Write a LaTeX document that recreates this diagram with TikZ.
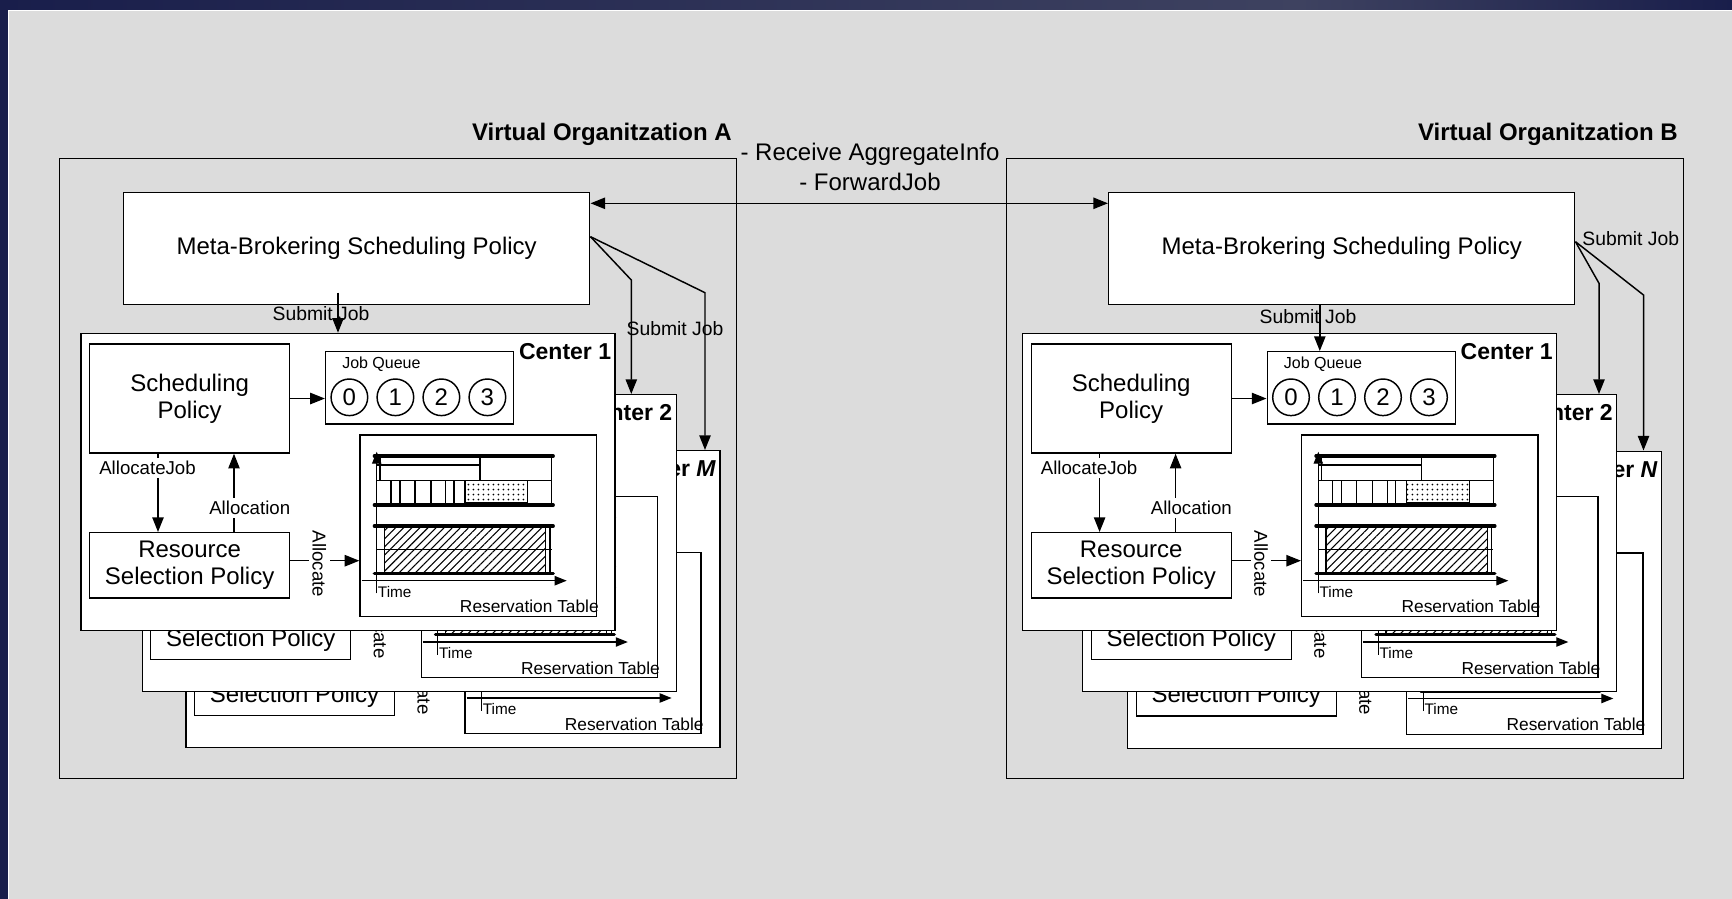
\documentclass[tikz,border=0pt]{standalone}
\usepackage{fontspec}
\setmainfont{Liberation Sans}
\usetikzlibrary{arrows.meta,patterns.meta}

\definecolor{pagegray}{RGB}{220,220,220}
\definecolor{navy}{RGB}{25,30,75}
\definecolor{slate}{RGB}{62,66,96}

\tikzset{
  ln/.style={line width=1.1pt},
  thin/.style={line width=0.9pt},
  heavy/.style={line width=2.4pt, line cap=round},
  arr/.style={ln, -{Triangle[length=11pt,width=8.5pt]}},
  darr/.style={ln, {Triangle[length=11pt,width=8.5pt]}-{Triangle[length=11pt,width=8.5pt]}},
  axarr/.style={thin, -{Triangle[length=9pt,width=7pt]}},
  rbox/.style n args={2}{draw, ln, fill=white, anchor=north west, inner sep=0pt,
     minimum width=#1*0.75pt, minimum height=#2*0.75pt},
  frame/.style n args={2}{draw, ln, anchor=north west, inner sep=0pt,
     minimum width=#1*0.75pt, minimum height=#2*0.75pt},
  big/.style={font=\fontsize{18}{20.5}\selectfont, align=center},
  small/.style={font=\fontsize{14}{16}\selectfont, inner sep=0pt},
  sublbl/.style={font=\fontsize{14.5}{16}\selectfont, inner sep=0pt},
  ctitle/.style={font=\bfseries\fontsize{17.25}{19}\selectfont, inner sep=0pt},
  vot/.style={font=\bfseries\fontsize{18}{20}\selectfont, inner sep=0pt},
  qball/.style={draw, ln, circle, fill=white, minimum size=36.6*0.75pt,
     inner sep=0pt, font=\fontsize{18}{20}\selectfont},
}

% One computing center: policies, job queue and reservation table.
% #1 name prefix, #2/#3 top-left corner, #4 title,
% #5 = 1 for the front center (all labels), 0 for a center lying behind another
\newcommand{\centerstack}[5]{%
\begin{scope}[shift={(#2,#3)}]
  \node[rbox={534}{297}] (#1) at (0,0) {};
  \node[ctitle, anchor=east] (#1t) at (531,19) {#4};
  \node[rbox={200}{109}, big] (#1sp) at (8.5,10.6) {\ifnum#5=1 Scheduling\\Policy\fi};
  \node[rbox={188}{72.3}] (#1jq) at (244.5,18.3) {};
  \node[qball] (#1q0) at (269,64.6) {\ifnum#5=1 0\fi};
  \node[qball] (#1q1) at (315,64.6) {\ifnum#5=1 1\fi};
  \node[qball] (#1q2) at (361,64.6) {\ifnum#5=1 2\fi};
  \node[qball] (#1q3) at (407,64.6) {\ifnum#5=1 3\fi};
  \node[rbox={236.1}{181.4}] (#1rt) at (279,101.6) {};
  \node[rbox={200}{65.3}, big] (#1rsp) at (8.5,199.3) {Resource\\Selection Policy};
  % policy connectors
  \coordinate (#1ajx) at (77.6,0);
  \coordinate (#1alx) at (153.6,0);
  \coordinate (#1aty) at (0,228);
  \draw[arr] (#1sp.east) -- (#1sp.east -| #1jq.west);
  \draw[arr] (#1sp.south -| #1ajx) -- (#1rsp.north -| #1ajx);
  \draw[arr] (#1rsp.north -| #1alx) -- (#1sp.south -| #1alx);
  \draw[arr] (#1rsp.east |- #1aty) -- (#1rt.west |- #1aty);
  \ifnum#5=1
    \node[font=\fontsize{12}{14}\selectfont, inner sep=0pt] (#1jqt) at (301,31.6) {Job Queue};
    \node[small, fill=white, inner ysep=2.5pt, anchor=west] (#1ajl) at (18.6,135.6) {AllocateJob};
    \node[small, fill=white, inner ysep=2.5pt, anchor=west] (#1all) at (128.6,175.6) {Allocation};
  \fi
  \node[small, fill=white, inner ysep=2.5pt, rotate=-90] (#1atl) at (239,231.3) {Allocate};
  % reservation table contents
  \begin{scope}[shift={(279,101.6)}]
    \fill[pattern={Dots[distance=4pt,radius=0.8pt]}] (105.6,46.4) rectangle (168.3,68.4);
    \fill[pattern={Lines[angle=45,distance=4.3pt,line width=0.8pt]}] (24.9,91.7) rectangle (186.3,139);
    \draw[thin] (105.6,46.4) rectangle (168.3,68.4);
    \draw[thin] (17.3,30.7) -- (120.6,30.7);
    \draw[thin] (17.3,46.4) -- (192.3,46.4);
    \draw[thin] (120.6,21.7) -- (120.6,46.4);
    \draw[thin] (192.3,21.7) -- (192.3,70.7);
    \draw[thin] (20.6,21.7) -- (20.6,46.4);
    \foreach \vx in {31.6,40.6,55.6,71.6,86.3,94.6}
      \draw[thin] (\vx,46.4) -- (\vx,70.7);
    \draw[thin] (17.3,115) -- (192.3,115);
    \draw[thin] (24.9,91.7) -- (24.9,139);
    \draw[thin] (186.3,91.7) -- (186.3,139);
    \draw[thin] (190.6,91.7) -- (190.6,139);
    \draw[heavy] (14.9,21.7) -- (193.9,21.7);
    \draw[heavy] (14.9,70.7) -- (193.9,70.7);
    \draw[heavy] (14.9,91.7) -- (193.9,91.7);
    \draw[heavy] (14.9,139) -- (193.9,139);
    \draw[axarr] (17.3,159) -- (17.3,17.4);
    \draw[axarr] (2.3,146.4) -- (207.3,146.4);
    \node[font=\fontsize{11.5}{13}\selectfont, anchor=west, inner sep=0pt] (#1tm) at (18.3,157.4) {Time};
    \node[font=\fontsize{13}{15}\selectfont, anchor=east, inner sep=0pt] (#1rtl) at (239.6,172.4) {Reservation Table};
  \end{scope}
\end{scope}}

\begin{document}
\begin{tikzpicture}[x=0.75pt,y=-0.75pt]
\useasboundingbox (0,0) rectangle (1732,899);
% page background and window frame
\fill[pagegray] (0,0) rectangle (1732,899);
\shade[left color=navy, right color=slate] (0,0) rectangle (1300,10);
\shade[left color=slate, right color=navy] (1300,0) rectangle (1732,10);
\fill[navy] (0,0) rectangle (8,899);
\draw[white, line width=0.8pt] (8.5,899) -- (8.5,10.5) -- (1732,10.5);

% virtual organizations
\node[frame={677}{619.5}] (voA) at (58.5,158) {};
\node[frame={677}{619.5}] (voB) at (1006,158) {};
\node[vot, anchor=base east] (voAt) at (732,141) {Virtual Organitzation A};
\node[vot, anchor=base east] (voBt) at (1678,141) {Virtual Organitzation B};

% computing centers, back to front
\centerstack{AM}{185.3}{450}{Center \textit{M}}{0}
\centerstack{A2}{141.5}{394}{Center 2}{0}
\centerstack{A1}{80.4}{332.7}{Center 1}{1}
\centerstack{BN}{1127}{450.5}{Center \textit{N}}{0}
\centerstack{B2}{1082}{394}{Center 2}{0}
\centerstack{B1}{1022}{332.7}{Center 1}{1}

% meta-brokers
\node[rbox={466}{112}, big] (mbA) at (123,192) {Meta-Brokering Scheduling Policy};
\node[rbox={466}{112}, big] (mbB) at (1108,192) {Meta-Brokering Scheduling Policy};

% exchange between the meta-brokers
\coordinate (xy) at (0,203.3);
\draw[darr] (mbA.east |- xy) -- (mbB.west |- xy);
\node[big, inner sep=0pt, anchor=base] (xc1) at (870,161) {- Receive AggregateInfo};
\node[big, inner sep=0pt, anchor=base] (xc2) at (870,190) {- ForwardJob};

% job submission, side A
\coordinate (dA) at (338,292.7);
\draw[arr] (dA) -- (dA |- A1.north);
\node[sublbl] (sjA1) at (321,313.3) {Submit Job};
\coordinate (sA) at (0,236.7);
\coordinate (kA2) at (631.3,280);
\coordinate (kAM) at (705,292.7);
\draw[arr] (mbA.east |- sA) -- (kA2) -- (kA2 |- A2.north);
\draw[arr] (mbA.east |- sA) -- (kAM) -- (kAM |- AM.north);
\node[sublbl] (sjA2) at (675,328.3) {Submit Job};

% job submission, side B
\coordinate (dB) at (1319.8,0);
\draw[arr] (mbB.south -| dB) -- (dB |- B1jq.north);
\node[sublbl] (sjB1) at (1308,316.7) {Submit Job};
\coordinate (sB) at (0,241.7);
\coordinate (kB2) at (1599,283.3);
\coordinate (kBN) at (1643.5,295);
\draw[arr] (mbB.east |- sB) -- (kB2) -- (kB2 |- B2.north);
\draw[arr] (mbB.east |- sB) -- (kBN) -- (kBN |- BN.north);
\node[sublbl] (sjB2) at (1630.7,238.3) {Submit Job};
\end{tikzpicture}
\end{document}
